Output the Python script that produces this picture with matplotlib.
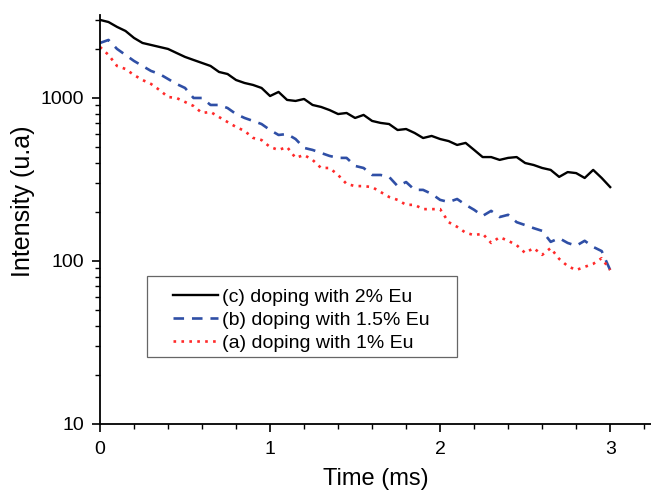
import numpy as np
import matplotlib
matplotlib.use('Agg')
import matplotlib.pyplot as plt
from matplotlib.patches import Rectangle
from matplotlib.ticker import MultipleLocator, LogLocator, NullFormatter, FuncFormatter

plt.rcParams['font.family'] = ['Liberation Sans', 'DejaVu Sans']

# tempo (ms) - passo de 0.05
tempo = np.round(np.arange(61) * 0.05, 2)

# (c) 2% Eu
int_c = [3013, 2924, 2730, 2577, 2335, 2175, 2115, 2056, 1999, 1889,
         1786, 1711, 1640, 1572, 1444, 1403, 1289, 1236, 1202, 1152,
         1028, 1089, 973, 959, 986, 906, 881, 843, 797, 809,
         754, 787, 723, 703, 692, 636, 645, 610, 568, 585,
         560, 544, 515, 530, 480, 434, 434, 417, 429, 434,
         399, 388, 372, 362, 328, 351, 346, 323, 362, 323, 284]

# (b) 1.5% Eu
int_b = [2175, 2270, 2000, 1837, 1687, 1572, 1465, 1403, 1308, 1219,
         1152, 1000, 1000, 906, 906, 868, 797, 754, 723, 692,
         636, 593, 601, 560, 494, 480, 460, 441, 429, 429,
         383, 372, 337, 337, 328, 288, 305, 273, 273, 258,
         237, 230, 240, 221, 206, 189, 203, 186, 192, 173,
         166, 159, 153, 131, 138, 129, 124, 133, 122, 115, 88]

# (a) 1% Eu
int_a = [2056, 1837, 1572, 1506, 1383, 1289, 1219, 1119, 1014, 1000,
         945, 893, 809, 821, 764, 712, 664, 628, 569, 552,
         500, 480, 500, 429, 447, 417, 372, 372, 337, 297,
         288, 288, 284, 265, 247, 237, 221, 221, 208, 208,
         208, 173, 162, 149, 144, 147, 129, 140, 133, 125,
         112, 120, 109, 120, 103, 93, 88, 92, 96, 104, 88]

fig = plt.figure(figsize=(6.51, 4.91), dpi=100)
ax = fig.add_axes([0.1536, 0.1365, 0.8464, 0.833])

ax.plot(tempo, int_c, color='black', lw=1.7, label='(c) doping with 2% Eu')
ax.plot(tempo, int_b, color='#2f4fa6', lw=1.9, linestyle=(0, (4, 3)),
        label='(b) doping with 1.5% Eu')
ax.plot(tempo, int_a, color='#ff2a2a', lw=1.9, linestyle=(0, (1, 2)),
        label='(a) doping with 1% Eu')

ax.set_yscale('log')
ax.set_xlim(0, 3.24)
ax.set_ylim(10, 3230)

ax.xaxis.set_major_locator(MultipleLocator(1))
ax.xaxis.set_minor_locator(MultipleLocator(0.2))
ax.yaxis.set_major_locator(LogLocator(base=10))
ax.yaxis.set_minor_locator(LogLocator(base=10, subs=np.arange(2, 10)))
ax.yaxis.set_minor_formatter(NullFormatter())
ax.yaxis.set_major_formatter(FuncFormatter(lambda v, p: '%d' % v))

for s in ['top', 'right']:
    ax.spines[s].set_visible(False)
for s in ['left', 'bottom']:
    ax.spines[s].set_linewidth(1.3)

ax.tick_params(which='major', direction='out', length=6, width=1.2, labelsize=14)
ax.tick_params(which='minor', direction='out', length=3.5, width=1.0)
ax.tick_params(axis='x', which='major', pad=6.5)
ax.tick_params(axis='y', which='major', pad=5.5)

ax.set_xlabel('Time (ms)', fontsize=17, labelpad=7)
ax.set_ylabel('Intensity (u.a)', fontsize=18)
ax.yaxis.set_label_coords(-0.118, 0.545)

# legenda sem moldura + retangulo manual (caixa mais larga que o padrao)
leg = ax.legend(loc='upper left', bbox_to_anchor=(0.1325, 0.332), fontsize=14,
                frameon=False, handlelength=2.3, handletextpad=0.2,
                borderpad=0, labelspacing=0.28, borderaxespad=0)
ax.add_patch(Rectangle((0.0853, 0.1638), 0.5626, 0.198, transform=ax.transAxes,
                       fill=False, edgecolor='#666666', lw=0.9, zorder=4))

plt.savefig('out.png', dpi=100)
